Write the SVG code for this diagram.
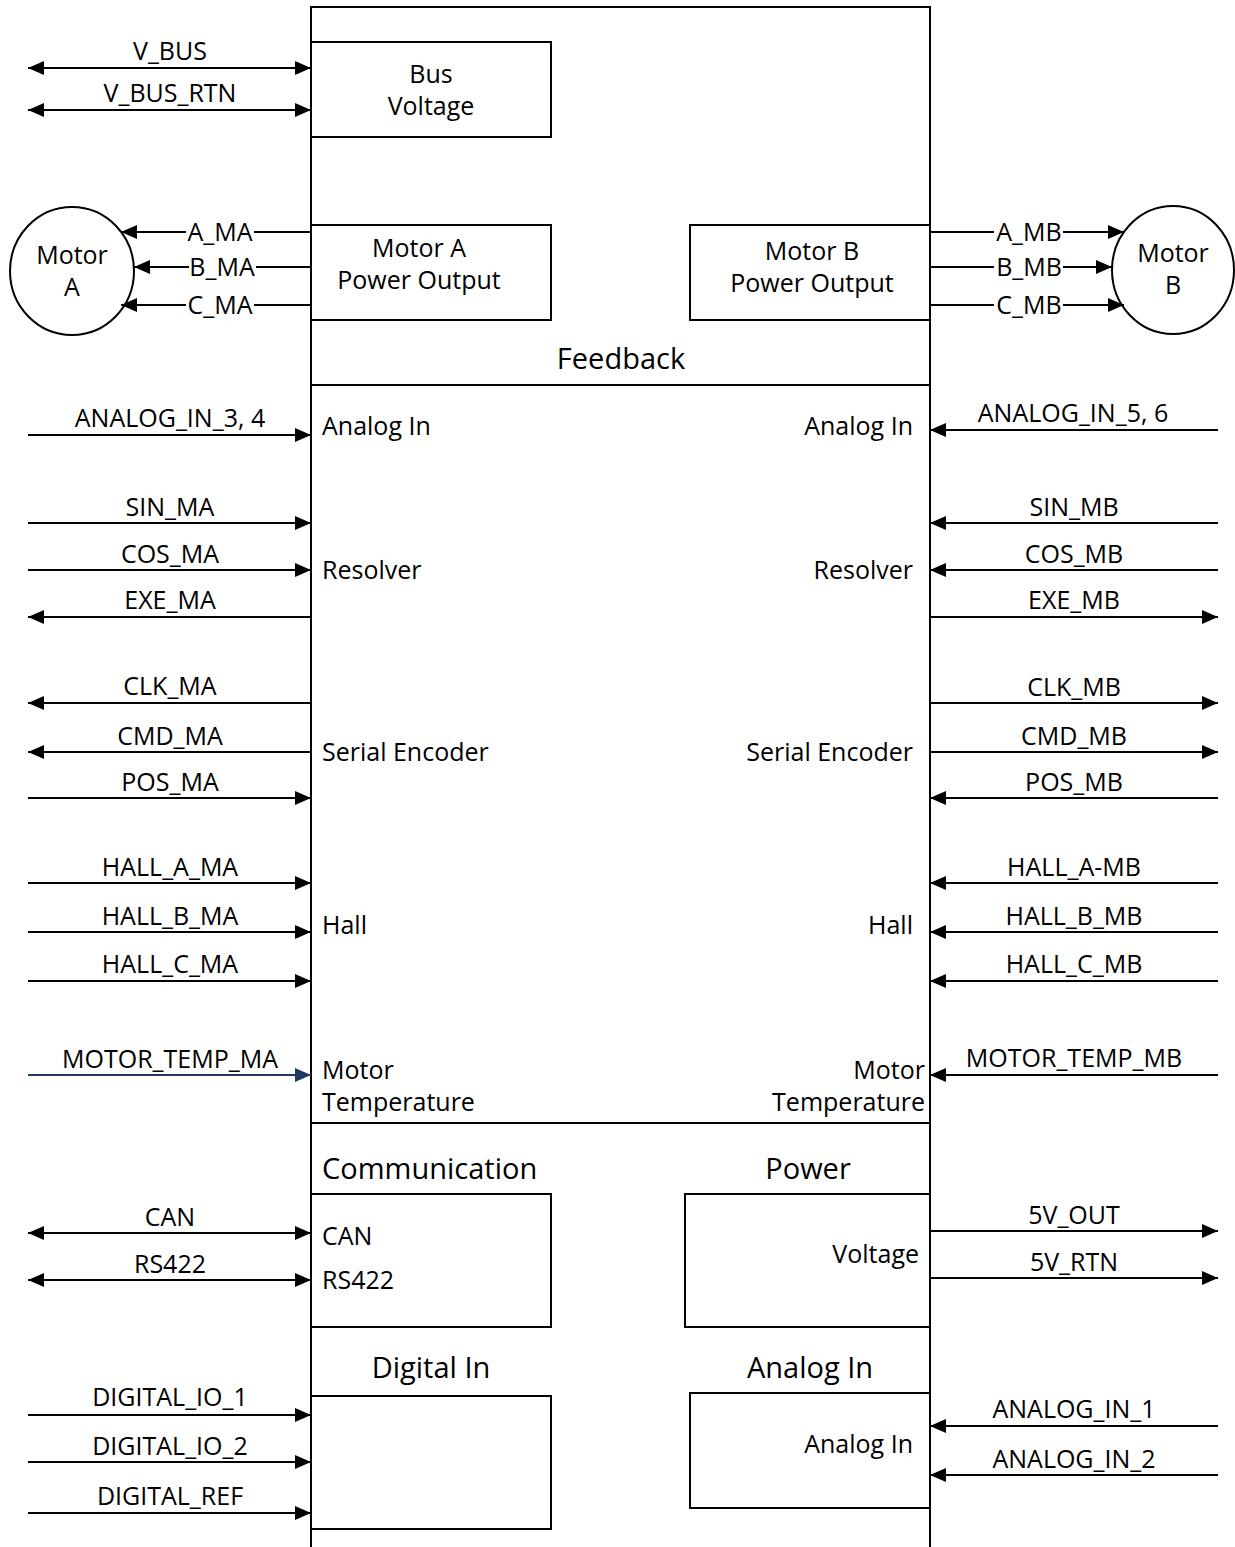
<svg xmlns="http://www.w3.org/2000/svg" width="1235" height="1547" viewBox="0 0 1235 1547">
<defs>
<marker id="ah" viewBox="0 0 16 14" refX="16" refY="7" markerWidth="16" markerHeight="14" markerUnits="userSpaceOnUse" orient="auto-start-reverse">
<path d="M0,0 L16,7 L0,14 z" fill="#000"/>
</marker>
<marker id="ahb" viewBox="0 0 16 14" refX="16" refY="7" markerWidth="16" markerHeight="14" markerUnits="userSpaceOnUse" orient="auto-start-reverse">
<path d="M0,0 L16,7 L0,14 z" fill="#203864"/>
</marker>
</defs>
<style>
text{font-family:"Open Sans","Noto Sans","Liberation Sans",sans-serif;fill:#000}
.lbl{font-size:25px;text-anchor:middle}
.in{font-size:25px}
.r{text-anchor:end}
.c{text-anchor:middle}
.ttl{font-size:29px}
.box{fill:#fff;stroke:#000;stroke-width:2}
.ln{fill:none;stroke:#000;stroke-width:2}
.e{marker-end:url(#ah)}
.s{marker-start:url(#ah)}
</style>
<rect width="1235" height="1547" fill="#fff"/>

<g id="main-unit">
<path class="ln" d="M311,1547 V7 H930 V1547"/>
</g>

<g id="bus-voltage">
<rect class="box" x="311" y="42" width="240" height="95"/>
<text class="in c" x="431" y="83">Bus</text>
<text class="in c" x="431" y="115">Voltage</text>
</g>

<g id="motor-a-power">
<rect class="box" x="311" y="225" width="240" height="95"/>
<text class="in c" x="419" y="257">Motor A</text>
<text class="in c" x="419" y="289">Power Output</text>
</g>

<g id="motor-b-power">
<rect class="box" x="690" y="225" width="240" height="95"/>
<text class="in c" x="812" y="260">Motor B</text>
<text class="in c" x="812" y="292">Power Output</text>
</g>

<g id="motor-a">
<ellipse class="box" cx="72" cy="271" rx="62" ry="64"/>
<text class="in c" x="72" y="264">Motor</text>
<text class="in c" x="72" y="296">A</text>
</g>

<g id="motor-b">
<ellipse class="box" cx="1173" cy="270" rx="61" ry="64"/>
<text class="in c" x="1173" y="262">Motor</text>
<text class="in c" x="1173" y="294">B</text>
</g>

<g id="feedback">
<line class="ln" x1="311" y1="385" x2="930" y2="385"/>
<line class="ln" x1="311" y1="1123" x2="930" y2="1123"/>
<text class="ttl c" x="621" y="369">Feedback</text>
<text class="in" x="322" y="435">Analog In</text>
<text class="in r" x="913" y="435">Analog In</text>
<text class="in" x="322" y="579">Resolver</text>
<text class="in r" x="913" y="579">Resolver</text>
<text class="in" x="322" y="761">Serial Encoder</text>
<text class="in r" x="913" y="761">Serial Encoder</text>
<text class="in" x="322" y="934">Hall</text>
<text class="in r" x="913" y="934">Hall</text>
<text class="in" x="322" y="1079">Motor</text>
<text class="in" x="322" y="1111">Temperature</text>
<text class="in r" x="925" y="1079">Motor</text>
<text class="in r" x="925" y="1111">Temperature</text>
</g>

<g id="communication">
<text class="ttl" x="322" y="1179">Communication</text>
<rect class="box" x="311" y="1194" width="240" height="133"/>
<text class="in" x="322" y="1245">CAN</text>
<text class="in" x="322" y="1289">RS422</text>
</g>

<g id="power">
<text class="ttl c" x="808" y="1179">Power</text>
<rect class="box" x="685" y="1194" width="245" height="133"/>
<text class="in r" x="919" y="1263">Voltage</text>
</g>

<g id="digital-in">
<text class="ttl c" x="431" y="1378">Digital In</text>
<rect class="box" x="311" y="1396" width="240" height="133"/>
</g>

<g id="analog-in">
<text class="ttl c" x="810" y="1378">Analog In</text>
<rect class="box" x="690" y="1393" width="240" height="115"/>
<text class="in r" x="913" y="1453">Analog In</text>
</g>

<g id="connectors">
<!-- left side -->
<path class="ln s e" d="M28,68 H311"/>
<path class="ln s e" d="M28,110 H311"/>
<path class="ln e" d="M28,435 H311"/>
<path class="ln e" d="M28,523 H311"/>
<path class="ln e" d="M28,570 H311"/>
<path class="ln e" d="M311,617 H28"/>
<path class="ln e" d="M311,703 H28"/>
<path class="ln e" d="M311,752 H28"/>
<path class="ln e" d="M28,798 H311"/>
<path class="ln e" d="M28,883 H311"/>
<path class="ln e" d="M28,932 H311"/>
<path class="ln e" d="M28,981 H311"/>
<path d="M28,1075 H311" fill="none" stroke="#203864" stroke-width="2" marker-end="url(#ahb)"/>
<path class="ln s e" d="M28,1233 H311"/>
<path class="ln s e" d="M28,1280 H311"/>
<path class="ln e" d="M28,1415 H311"/>
<path class="ln e" d="M28,1462 H311"/>
<path class="ln e" d="M28,1513 H311"/>
<!-- motor A -->
<path class="ln e" d="M311,232 H254 M186,232 H121"/>
<path class="ln e" d="M311,267 H256 M189,267 H134"/>
<path class="ln e" d="M311,305 H254 M186,305 H121"/>
<!-- motor B -->
<path class="ln e" d="M930,232 H994 M1063,232 H1124"/>
<path class="ln e" d="M930,267 H994 M1063,267 H1112"/>
<path class="ln e" d="M930,305 H994 M1063,305 H1124"/>
<!-- right side -->
<path class="ln e" d="M1218,430 H930"/>
<path class="ln e" d="M1218,523 H930"/>
<path class="ln e" d="M1218,570 H930"/>
<path class="ln e" d="M930,617 H1218"/>
<path class="ln e" d="M930,703 H1218"/>
<path class="ln e" d="M930,752 H1218"/>
<path class="ln e" d="M1218,798 H930"/>
<path class="ln e" d="M1218,883 H930"/>
<path class="ln e" d="M1218,932 H930"/>
<path class="ln e" d="M1218,981 H930"/>
<path class="ln e" d="M1218,1075 H930"/>
<path class="ln e" d="M930,1231 H1218"/>
<path class="ln e" d="M930,1278 H1218"/>
<path class="ln e" d="M1218,1426 H930"/>
<path class="ln e" d="M1218,1475 H930"/>

<!-- labels left -->
<text class="lbl" x="170" y="60">V_BUS</text>
<text class="lbl" x="170" y="102">V_BUS_RTN</text>
<text class="lbl" x="170" y="427">ANALOG_IN_3, 4</text>
<text class="lbl" x="170" y="516">SIN_MA</text>
<text class="lbl" x="170" y="563">COS_MA</text>
<text class="lbl" x="170" y="609">EXE_MA</text>
<text class="lbl" x="170" y="695">CLK_MA</text>
<text class="lbl" x="170" y="745">CMD_MA</text>
<text class="lbl" x="170" y="791">POS_MA</text>
<text class="lbl" x="170" y="876">HALL_A_MA</text>
<text class="lbl" x="170" y="925">HALL_B_MA</text>
<text class="lbl" x="170" y="973">HALL_C_MA</text>
<text class="lbl" x="170" y="1068">MOTOR_TEMP_MA</text>
<text class="lbl" x="170" y="1226">CAN</text>
<text class="lbl" x="170" y="1273">RS422</text>
<text class="lbl" x="170" y="1406">DIGITAL_IO_1</text>
<text class="lbl" x="170" y="1455">DIGITAL_IO_2</text>
<text class="lbl" x="170" y="1505">DIGITAL_REF</text>
<!-- motor labels -->
<text class="lbl" x="220" y="241">A_MA</text>
<text class="lbl" x="222" y="276">B_MA</text>
<text class="lbl" x="220" y="314">C_MA</text>
<text class="lbl" x="1029" y="241">A_MB</text>
<text class="lbl" x="1029" y="276">B_MB</text>
<text class="lbl" x="1029" y="314">C_MB</text>
<!-- labels right -->
<text class="lbl" x="1073" y="422">ANALOG_IN_5, 6</text>
<text class="lbl" x="1074" y="516">SIN_MB</text>
<text class="lbl" x="1074" y="563">COS_MB</text>
<text class="lbl" x="1074" y="609">EXE_MB</text>
<text class="lbl" x="1074" y="696">CLK_MB</text>
<text class="lbl" x="1074" y="745">CMD_MB</text>
<text class="lbl" x="1074" y="791">POS_MB</text>
<text class="lbl" x="1074" y="876">HALL_A-MB</text>
<text class="lbl" x="1074" y="925">HALL_B_MB</text>
<text class="lbl" x="1074" y="973">HALL_C_MB</text>
<text class="lbl" x="1074" y="1067">MOTOR_TEMP_MB</text>
<text class="lbl" x="1074" y="1224">5V_OUT</text>
<text class="lbl" x="1074" y="1271">5V_RTN</text>
<text class="lbl" x="1074" y="1418">ANALOG_IN_1</text>
<text class="lbl" x="1074" y="1468">ANALOG_IN_2</text>
</g>
</svg>
